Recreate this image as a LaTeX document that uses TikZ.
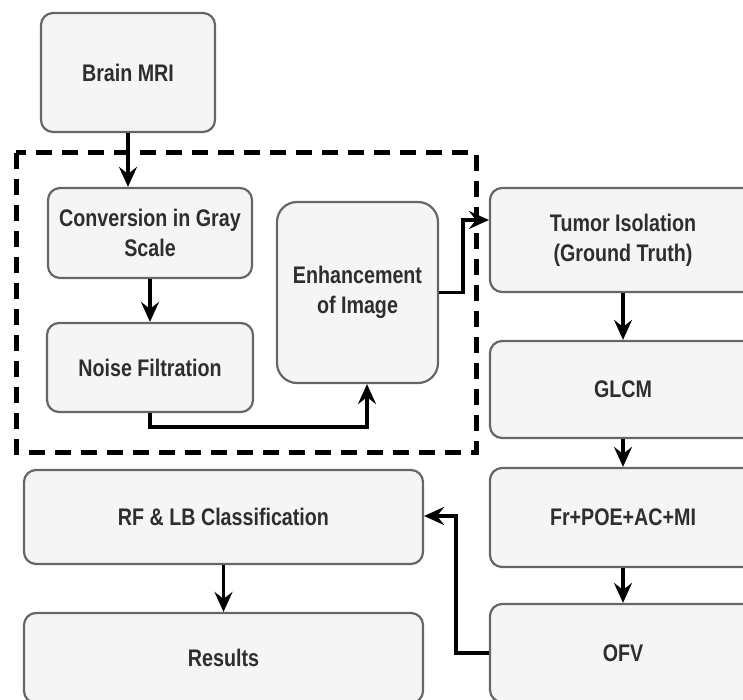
\documentclass[tikz,border=0pt]{standalone}
\usepackage{fontspec}
\setmainfont{Liberation Sans}[FakeStretch=0.82]
\usetikzlibrary{arrows.meta}
\definecolor{boxfill}{HTML}{F5F5F5}
\definecolor{boxline}{HTML}{666666}
\definecolor{txt}{HTML}{2E2E2E}

\begin{document}
\begin{tikzpicture}[x=1pt,y=-1pt,
  box/.style={draw=boxline, fill=boxfill, line width=2.2pt, rounded corners=12pt,
    align=center, text=txt, inner sep=0pt,
    font=\fontsize{24}{30}\selectfont\bfseries},
  flow/.style={line width=3.2pt, -{Stealth[length=20pt,width=18pt,inset=7pt]}},
  stage/.style={line width=5pt, dash pattern=on 16pt off 10pt}
]
\useasboundingbox (0,0) rectangle (743,700);
\clip (0,0) rectangle (743,700);

% preprocessing stage frame
\draw[stage] (16,153) rectangle (476,452);

% process boxes
\node[box, minimum width=174pt, minimum height=119pt] (mri)   at (128,72.5)  {Brain MRI};
\node[box, minimum width=204pt, minimum height=90pt]  (gray)  at (150,233)   {Conversion in Gray\\Scale};
\node[box, minimum width=206pt, minimum height=89pt]  (noise) at (150,367.5) {Noise Filtration};
\node[box, minimum width=161pt, minimum height=181pt, rounded corners=20pt] (enh) at (357.5,292.5) {Enhancement\\of Image};
\node[box, minimum width=266pt, minimum height=104pt] (tumor) at (623,240)   {Tumor Isolation\\(Ground Truth)};
\node[box, minimum width=266pt, minimum height=97pt]  (glcm)  at (623,389.5) {GLCM};
\node[box, minimum width=266pt, minimum height=99pt]  (feat)  at (623,517.5) {Fr+POE+AC+MI};
\node[box, minimum width=266pt, minimum height=98pt]  (ofv)   at (623,653)   {OFV};
\node[box, minimum width=399pt, minimum height=94pt]  (rf)    at (223.5,517) {RF \& LB Classification};
\node[box, minimum width=399pt, minimum height=90pt]  (res)   at (223.5,658) {Results};

% bend points of the elbow connectors
\coordinate (nturn) at (367,427);
\coordinate (eturn) at (463,220);
\coordinate (oturn) at (456,516);

% connectors
\draw[flow] (mri.south) -- (mri.south |- gray.north);
\draw[flow] (gray) -- (noise);
\draw[flow] (noise.south) |- (nturn) -- (nturn |- enh.south);
\draw[flow] (enh.east) -| (eturn) -- (eturn -| tumor.west);
\draw[flow] (tumor) -- (glcm);
\draw[flow] (glcm) -- (feat);
\draw[flow] (feat) -- (ofv);
\draw[flow] (ofv.west) -| (oturn) -- (oturn -| rf.east);
\draw[flow] (rf) -- (res);
\end{tikzpicture}
\end{document}
